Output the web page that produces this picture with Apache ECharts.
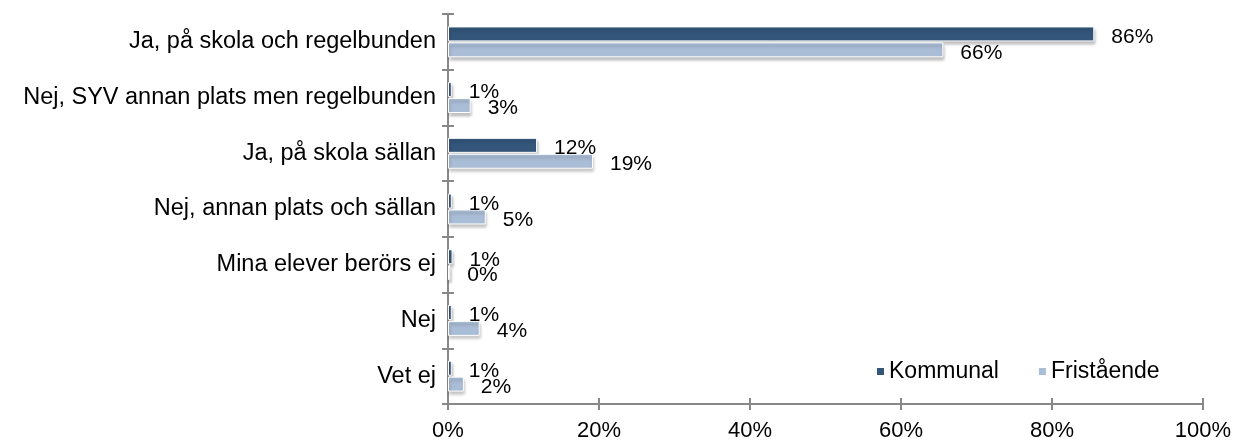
<!DOCTYPE html>
<html>
<head>
<meta charset="utf-8">
<script src="https://cdn.jsdelivr.net/npm/echarts@6/dist/echarts.min.js"></script>
<style>html,body{margin:0;padding:0;background:#fff;}#c{width:1237px;height:444px;}</style>
</head>
<body>
<div id="c"></div>
<script>
const categories = [
  'Ja, på skola och regelbunden',
  'Nej, SYV annan plats men regelbunden',
  'Ja, på skola sällan',
  'Nej, annan plats och sällan',
  'Mina elever berörs ej',
  'Nej',
  'Vet ej'
];
const kommunal = [85.6, 0.5, 11.8, 0.5, 0.6, 0.5, 0.5];
const fristaende = [65.6, 3.0, 19.2, 5.0, 0.3, 4.2, 2.1];
const xTicks = [0, 20, 40, 60, 80, 100];

const FONT = '"Liberation Sans", Arial, sans-serif';
const axisColor = '#888888';

const chart = echarts.init(document.getElementById('c'), null, {renderer: 'canvas'});
function barSeries(name, data, color) {
  return {
    name: name,
    type: 'bar',
    data: data,
    barWidth: 15,
    barGap: '6%',
    itemStyle: {
      color: color,
      borderColor: '#ffffff',
      borderWidth: 1,
      shadowColor: 'rgba(0,0,0,0.28)',
      shadowBlur: 3,
      shadowOffsetX: 1,
      shadowOffsetY: 3
    },
    label: {
      show: true,
      position: 'right',
      distance: 17,
      offset: [0, 3],
      color: '#000',
      fontFamily: FONT,
      fontSize: 21,
      formatter: p => Math.round(p.value) + '%'
    },
    emphasis: {disabled: true},
    animation: false
  };
}
chart.setOption({
  animation: false,
  textStyle: {fontFamily: FONT},
  grid: {left: 448, right: 34, top: 14, bottom: 40, containLabel: false},
  legend: {
    data: ['Kommunal', 'Fristående'],
    left: 870, top: 355,
    icon: 'rect', itemWidth: 9, itemHeight: 9, itemGap: 38,
    textStyle: {fontFamily: FONT, fontSize: 23, color: '#000', padding: [0,0,0,-1]}
  },
  xAxis: [{
    type: 'value', min: xTicks[0], max: xTicks[xTicks.length-1], interval: 20,
    axisLine: {show: true, lineStyle: {color: axisColor, width: 2}},
    axisTick: {show: true, length: 6, lineStyle: {color: axisColor, width: 2}},
    splitLine: {show: false},
    axisLabel: {formatter: '{value}%', fontFamily: FONT, fontSize: 22, color: '#000', margin: 16}
  }, {
    type: 'value', min: 0, max: 100, interval: 20, position: 'bottom',
    axisLine: {show: false},
    axisTick: {show: true, inside: true, length: 6, lineStyle: {color: axisColor, width: 2}},
    splitLine: {show: false},
    axisLabel: {show: false}
  }],
  yAxis: [{
    type: 'category', data: categories, inverse: true,
    axisLine: {show: true, lineStyle: {color: axisColor, width: 2}},
    axisTick: {show: true, length: 6, lineStyle: {color: axisColor, width: 2}},
    axisLabel: {fontFamily: FONT, fontSize: 23.5, color: '#000', margin: 12}
  }, {
    type: 'category', data: categories, inverse: true, position: 'left',
    axisLine: {show: false},
    axisTick: {show: true, inside: true, length: 6, lineStyle: {color: axisColor, width: 2}},
    axisLabel: {show: false}
  }],
  series: [
    barSeries('Kommunal', kommunal, '#34567B'),
    barSeries('Fristående', fristaende, '#AABDD6')
  ]
});
</script>
</body>
</html>
